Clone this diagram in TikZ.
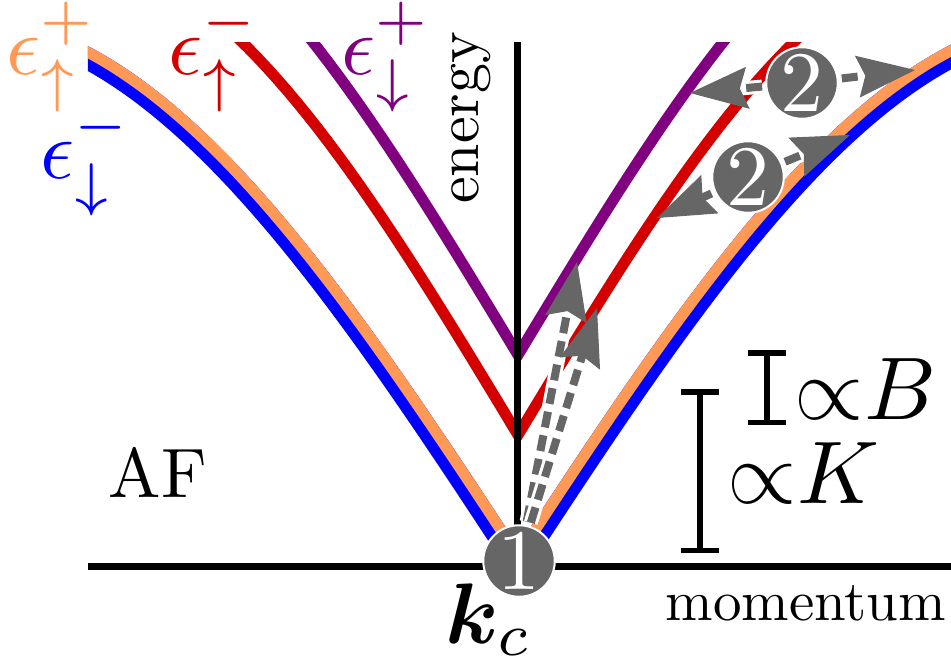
\documentclass[tikz,border=0pt]{standalone}
\usepackage{bm}
\usetikzlibrary{arrows.meta}
\definecolor{eorange}{RGB}{255,153,85}
\definecolor{ered}{RGB}{212,0,0}
\definecolor{epurple}{RGB}{128,0,128}
\definecolor{eblue}{RGB}{0,0,255}
\definecolor{mygray}{RGB}{102,102,102}
\tikzset{
  axisline/.style={draw=black, line width=3.5pt},
  band/.style={line width=5.5pt},
  pair/.style={line width=11pt},
  flow/.style={draw=mygray, line width=4pt, dash pattern=on 8pt off 4pt,
    -{Stealth[length=29pt, width=21pt, inset=4pt, line width=0.5pt]},
    preaction={draw=white, solid, line width=7pt, -, shorten >=22pt}},
  num/.style={circle, fill=mygray, draw=white, line width=1pt, text=white, inner sep=0pt, minimum size=7.9pt, scale=4.3},
  errbar/.style={line width=2.75pt, {Bar[width=19pt]}-{Bar[width=19pt]}},
  txt/.style={inner sep=0pt, scale=#1}
}

\begin{document}
\begin{tikzpicture}[x=0.5pt, y=0.5pt,
    declare function={lowband(\x)=543*sin(0.0028*abs(\x) r);
                      upband(\x)=487*sin(0.0034*abs(\x) r);}]
  \useasboundingbox (-518,-95) rectangle (433,566);

  % dispersion curves, cut to the plot window
  \begin{scope}
    \clip (-430,-40) rectangle (433,524);
    \draw[pair, eblue] plot[domain=-540:540, samples=109] (\x,{lowband(\x)});
    \begin{scope}
      \clip plot[domain=-540:540, samples=109] (\x,{lowband(\x)}) -- (540,700) -- (-540,700) -- cycle;
      \draw[pair, eorange] plot[domain=-540:540, samples=109] (\x,{lowband(\x)});
    \end{scope}
    \draw[band, ered] plot[domain=-300:300, samples=61] (\x,{131+upband(\x)});
    \draw[band, epurple] plot[domain=-300:300, samples=61] (\x,{211+upband(\x)});
  \end{scope}

  % axes
  \coordinate (xstart) at (-430,0);
  \coordinate (xend) at (433,0);
  \coordinate (origin) at (-1,0);
  \coordinate (ytop) at (-1,524);
  \draw[axisline] (xstart) -- (xend);
  \draw[axisline] (origin) -- (ytop);

  % gap bars
  \coordinate (kLow) at (182,13);
  \coordinate (kHigh) at (182,177);
  \coordinate (bLow) at (249,141);
  \coordinate (bHigh) at (249,216);
  \draw[errbar] (kLow) -- (kHigh);
  \draw[errbar] (bLow) -- (bHigh);
  \node[txt=4.45, anchor=base west] (propK) at (208,63) {${\propto}K$};
  \node[txt=4.45, anchor=base west] (propB) at (275,147) {${\propto}B$};

  % labels
  \node[txt=4.2, text=eorange] (upPlus) at (-467,509) {$\epsilon^{+}_{\uparrow}$};
  \node[txt=4.2, text=ered] (upMinus) at (-304,509) {$\epsilon^{-}_{\uparrow}$};
  \node[txt=4.2, text=epurple] (downPlus) at (-132,509) {$\epsilon^{+}_{\downarrow}$};
  \node[txt=4.2, text=eblue] (downMinus) at (-432,405) {$\epsilon^{-}_{\downarrow}$};
  \node[txt=3, rotate=90, anchor=base] (energy) at (-40,448) {energy};
  \node[txt=2.85, anchor=base] (momentum) at (288,-54) {momentum};
  \node[txt=3.5, anchor=base] (af) at (-360,69) {AF};
  \node[txt=4.3, anchor=base] (kc) at (-29,-77) {$\bm{k}_c$};

  % processes
  \node[num] (one) at (1,5) {1};
  \node[num] (twoUp) at (284,483) {2};
  \node[num] (twoLow) at (230,389) {2};
  \coordinate (purpleHit) at (59,304);
  \coordinate (redHit) at (79,258);
  \coordinate (purpleHitB) at (172,473);
  \coordinate (orangeHitB) at (397,496);
  \coordinate (redHitC) at (139,348);
  \coordinate (orangeHitC) at (332,431);
  \draw[flow] (one) -- (purpleHit);
  \draw[flow] (one) -- (redHit);
  \draw[flow] (twoUp) -- (purpleHitB);
  \draw[flow] (twoUp) -- (orangeHitB);
  \draw[flow] (twoLow) -- (redHitC);
  \draw[flow] (twoLow) -- (orangeHitC);
\end{tikzpicture}
\end{document}
